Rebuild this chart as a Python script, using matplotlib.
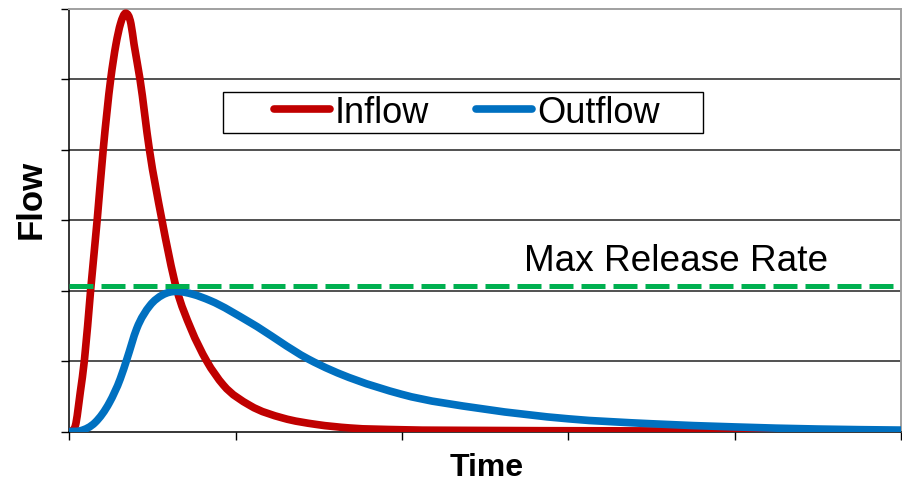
import numpy as np
import matplotlib
matplotlib.use("Agg")
import matplotlib.pyplot as plt
from matplotlib.path import Path
from matplotlib.patches import PathPatch, Rectangle
from matplotlib.lines import Line2D

# ---- data ----
time_in = [0, 0.3, 0.7, 1.3, 1.8, 2.55, 3.34, 4.06, 4.95, 5.59, 6.13, 6.75,
           7.39, 7.76, 8.48, 9.6, 11.09, 12.89, 14.6, 16.5, 18.5, 21.7, 25.7,
           29.7, 33.7, 39.9, 50, 63.8, 80, 100]
inflow = [0, 0.01, 0.08, 0.56, 1.02, 2.02, 3.02, 4.01, 5.0, 5.5, 5.79, 5.94,
          5.79, 5.5, 5.0, 4.01, 3.02, 2.02, 1.46, 1.0, 0.66, 0.37, 0.19,
          0.10, 0.05, 0.025, 0.015, 0.01, 0.006, 0.004]

time_out = [0, 1.3, 3.1, 4.8, 6.11, 6.91, 8.08, 9.68, 11.2, 12.89, 14.8, 16.9,
            21.7, 28.7, 39.9, 49.8, 60, 70, 80, 90, 100]
outflow = [0, 0.01, 0.13, 0.41, 0.75, 1.03, 1.46, 1.79, 1.94, 1.99, 1.95, 1.86,
           1.55, 1.03, 0.53, 0.32, 0.18, 0.11, 0.065, 0.035, 0.02]

max_release = 2.06

series_labels = ["Inflow", "Outflow"]
x_ticks = [0, 20, 40, 60, 80, 100]
y_ticks = [0, 1, 2, 3, 4, 5, 6]

RED = "#C00000"
BLUE = "#0070C0"
GREEN = "#00B050"

plt.rcParams["font.family"] = ["Liberation Sans", "DejaVu Sans"]


def smooth_path(x, y):
    """Smoothed line through the points as cubic Bezier segments
    (Hermite tangents), like a spreadsheet 'smoothed line'."""
    x = np.asarray(x, float)
    y = np.asarray(y, float)
    h = np.diff(x)
    d = np.diff(y) / h
    n = len(x)
    m = np.zeros(n)
    m[0], m[-1] = d[0], d[-1]
    for i in range(1, n - 1):
        if d[i - 1] * d[i] <= 0:
            m[i] = 0.0
        else:
            m[i] = (h[i] * d[i - 1] + h[i - 1] * d[i]) / (h[i - 1] + h[i])
    verts = [(x[0], y[0])]
    codes = [Path.MOVETO]
    for i in range(n - 1):
        verts += [(x[i] + h[i] / 3, y[i] + m[i] * h[i] / 3),
                  (x[i + 1] - h[i] / 3, y[i + 1] - m[i + 1] * h[i] / 3),
                  (x[i + 1], y[i + 1])]
        codes += [Path.CURVE4] * 3
    return Path(verts, codes)


W, H = 903, 485
fig = plt.figure(figsize=(W / 100, H / 100), dpi=100)
x0, x1, ytop, ybot = 69.5, 901, 10, 432.5
ax = fig.add_axes([x0 / W, 1 - ybot / H, (x1 - x0) / W, (ybot - ytop) / H])

ax.set_xlim(0, 100)
ax.set_ylim(0, 6)
ax.set_xticks(x_ticks)
ax.set_yticks(y_ticks)
ax.set_xticklabels([])
ax.set_yticklabels([])
ax.tick_params(axis="both", direction="out", length=5.5, width=1.0, color="black")

ax.grid(axis="y", color="#222222", lw=1.1)
gl = ax.get_ygridlines()
gl[0].set_visible(False)
gl[-1].set_visible(False)
ax.set_axisbelow(True)

for s in ["left", "bottom"]:
    ax.spines[s].set_color("black")
    ax.spines[s].set_linewidth(1.1)
for s in ["top", "right"]:
    ax.spines[s].set_color("#A0A0A0")
    ax.spines[s].set_linewidth(1.4)

ax.add_patch(PathPatch(smooth_path(time_in, inflow), fill=False, ec=RED,
                       lw=5.5, capstyle="round", joinstyle="round", zorder=3))
ax.add_patch(PathPatch(smooth_path(time_out, outflow), fill=False, ec=BLUE,
                       lw=5.5, capstyle="round", joinstyle="round", zorder=4))
ax.axhline(max_release, color=GREEN, lw=3.6, dashes=(4.8, 1.6), zorder=5)

ax.text((524 - x0) / ((x1 - x0) / 100), max_release + 0.23, "Max Release Rate",
        fontsize=26.6, ha="left", va="baseline", color="black")

# legend
handles = [Line2D([], [], color=RED, lw=5.5, solid_capstyle="round"),
           Line2D([], [], color=BLUE, lw=5.5, solid_capstyle="round")]
fig.add_artist(Rectangle((223 / W, 1 - 134 / H), (703 - 223) / W, (134 - 93) / H,
                         transform=fig.transFigure, fc="white", ec="black", lw=1.0))
fig.legend(handles, series_labels, loc="center",
           bbox_to_anchor=(467 / W, 1 - 113.5 / H), ncol=2, frameon=False,
           fontsize=26, handlelength=1.55, handletextpad=0.15,
           columnspacing=1.3, borderpad=0, borderaxespad=0)

fig.text(31 / W, 1 - 199 / H, "Flow", rotation=90, ha="center", va="center",
         fontsize=25, fontweight="bold")
fig.text(487 / W, 1 - 468 / H, "Time", ha="center", va="center",
         fontsize=23, fontweight="bold")

fig.savefig("out.png", dpi=100)
